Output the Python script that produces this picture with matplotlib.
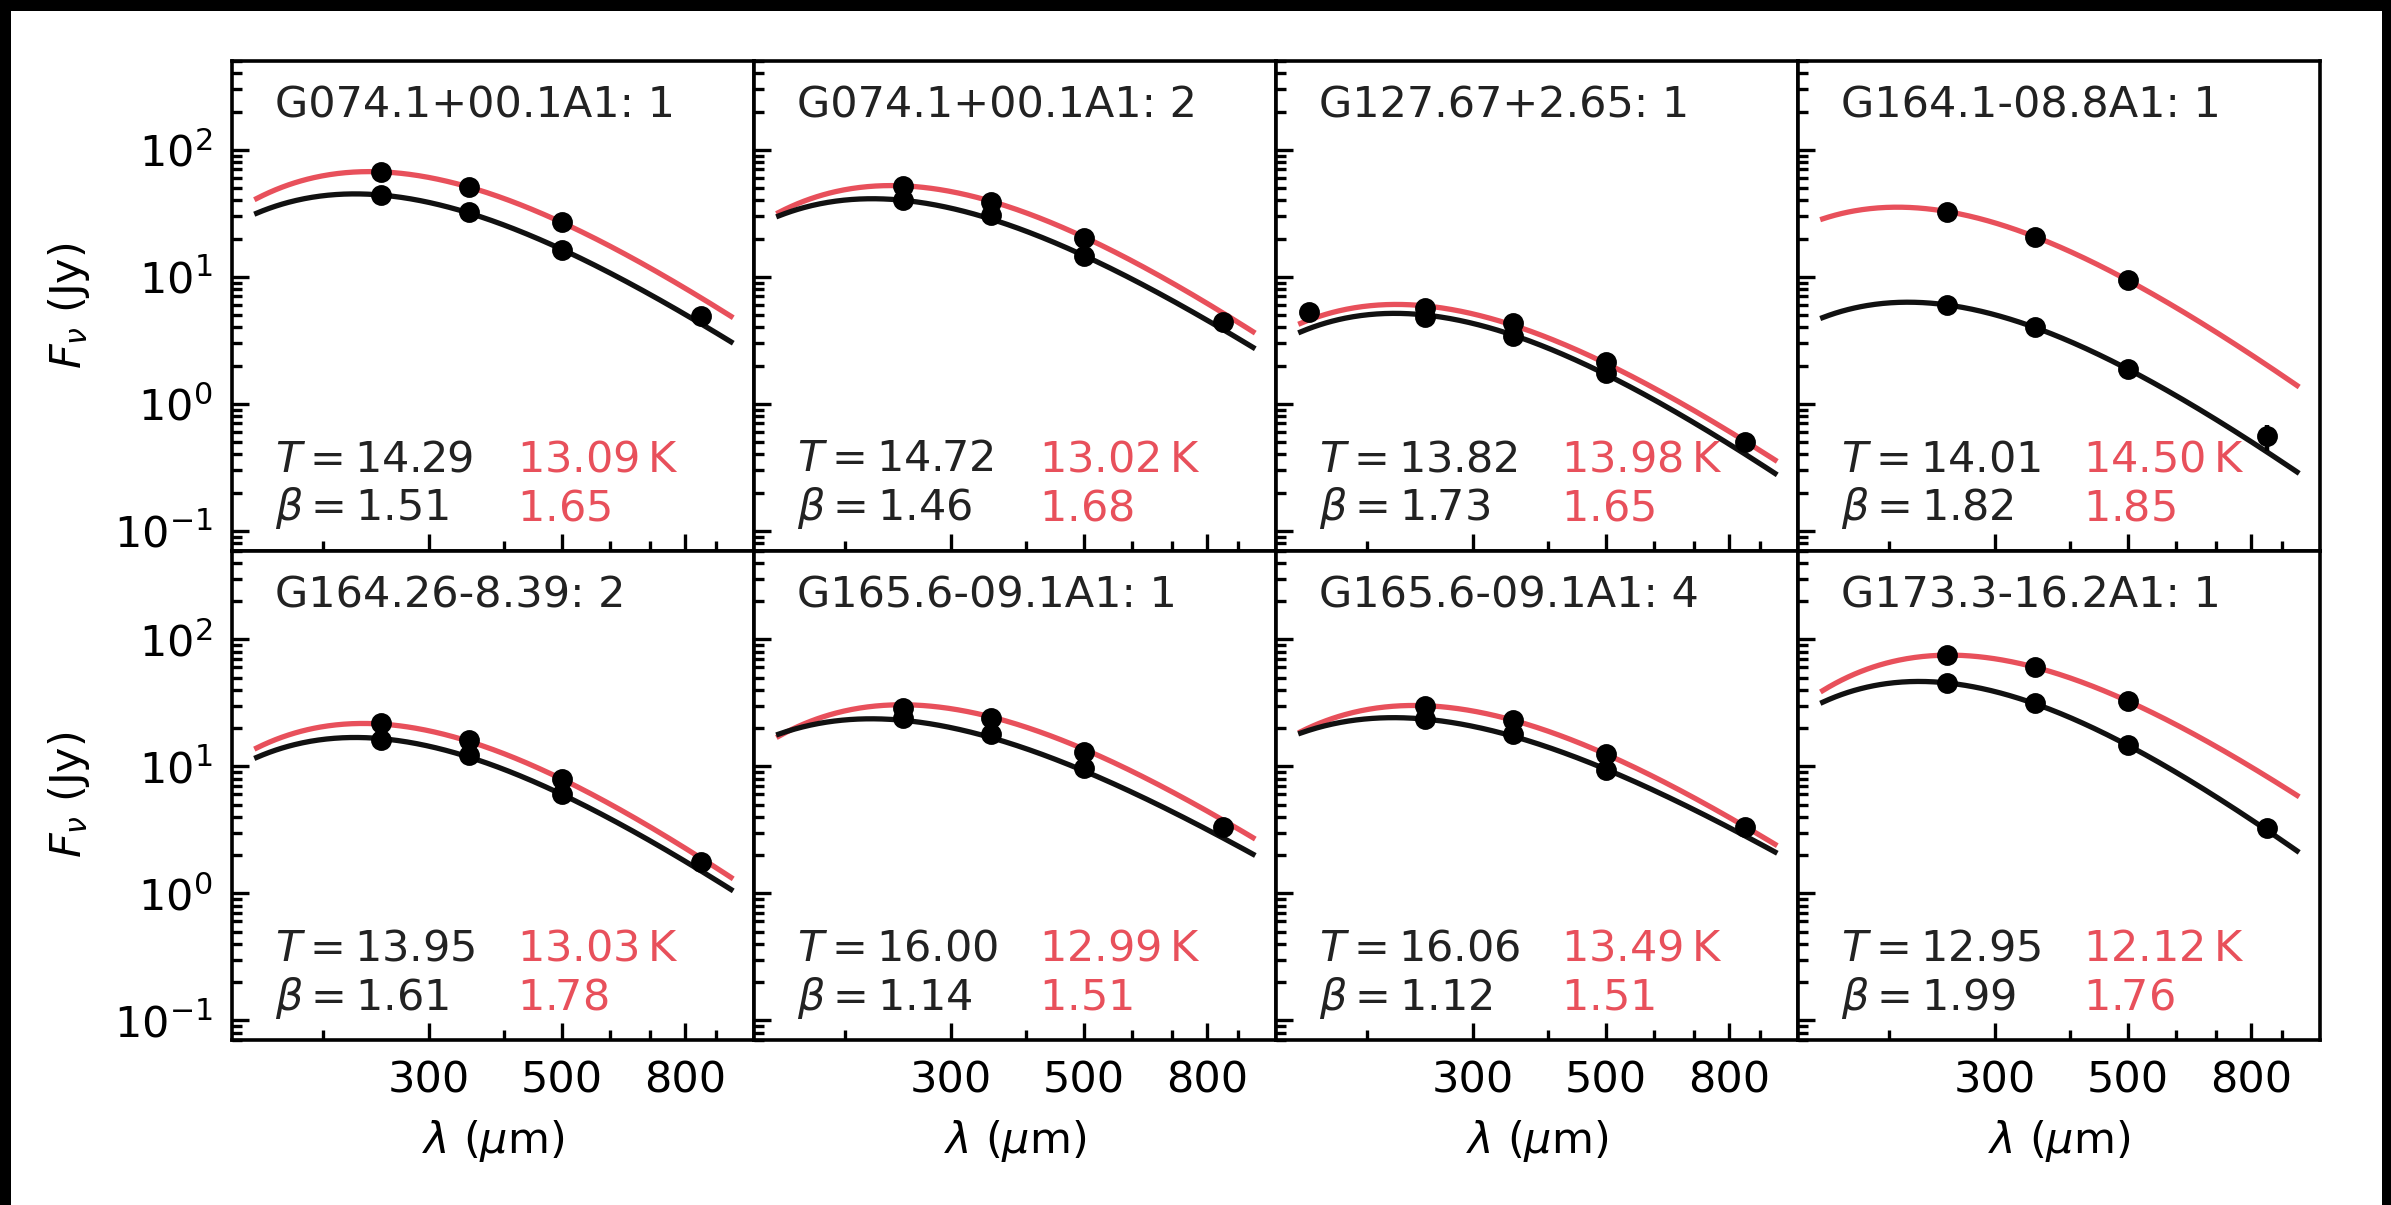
#!/usr/bin/env python3
"""
Grey-body SED fits for eight clumps, two flux extractions per clump.
"""

import numpy as np
import matplotlib

matplotlib.use("Agg")
import matplotlib.pyplot as plt
from matplotlib.patches import Rectangle
from matplotlib.ticker import FixedLocator, FixedFormatter, NullFormatter, LogLocator

# panel labels
names = [
  "G074.1+00.1A1: 1",
  "G074.1+00.1A1: 2",
  "G127.67+2.65: 1",
  "G164.1-08.8A1: 1",
  "G164.26-8.39: 2",
  "G165.6-09.1A1: 1",
  "G165.6-09.1A1: 4",
  "G173.3-16.2A1: 1",
]

# fitted parameters (black = first fit, red = second fit)
t_black = [14.29, 14.72, 13.82, 14.01, 13.95, 16.00, 16.06, 12.95]
t_red = [13.09, 13.02, 13.98, 14.50, 13.03, 12.99, 13.49, 12.12]
beta_black = [1.51, 1.46, 1.73, 1.82, 1.61, 1.14, 1.12, 1.99]
beta_red = [1.65, 1.68, 1.65, 1.85, 1.78, 1.51, 1.51, 1.76]

# SPIRE photometry (Jy) at 250 / 350 / 500 um
spire_wave = [250, 350, 500]
flux_black = [
  [44.0, 32.6, 16.4],
  [40.0, 30.6, 14.6],
  [4.8, 3.4, 1.75],
  [6.0, 4.0, 1.87],
  [16.1, 12.2, 6.0],
  [24.0, 18.0, 9.7],
  [23.5, 18.0, 9.4],
  [45.3, 31.3, 14.7],
]
flux_red = [
  [66.7, 51.0, 27.0],
  [52.0, 39.0, 20.2],
  [5.7, 4.3, 2.14],
  [32.6, 20.5, 9.4],
  [21.8, 16.1, 7.96],
  [29.0, 24.0, 13.0],
  [30.0, 23.0, 12.4],
  [75.0, 60.0, 32.6],
]

# SCUBA-2 850 um and PACS 160 um points
flux_850 = [4.9, 4.4, 0.50, 0.555, 1.75, 3.3, 3.3, 3.29]
err_850 = [0.4, 0.35, 0.05, 0.13, 0.15, 0.25, 0.25, 0.25]
flux_160 = [None, None, 5.3, None, None, None, None, None]

# fitted curve level at 250 um (Jy)
curve_black_250 = [44.0, 40.0, 5.0, 6.0, 16.5, 23.0, 23.5, 45.3]
curve_red_250 = [67.0, 52.0, 5.9, 32.6, 21.5, 30.5, 30.0, 75.0]

RED = "#e8505b"
FS = 15.5


def greybody(wave_um, temp, beta, level_250):
  """Modified black body scaled to level_250 at 250 um."""
  hc_k = 14387.77  # um K
  x = hc_k / (wave_um * temp)
  x0 = hc_k / (250.0 * temp)
  return level_250 * (250.0 / wave_um) ** (3 + beta) * np.expm1(x0) / np.expm1(x)


def draw_panel(ax, i):
  """Curves, data points and labels for one source."""
  lam = np.geomspace(155, 955, 300)
  ax.plot(lam, greybody(lam, t_red[i], beta_red[i], curve_red_250[i]), color=RED, lw=1.9, zorder=2)
  ax.plot(lam, greybody(lam, t_black[i], beta_black[i], curve_black_250[i]), color="#111111", lw=1.9, zorder=2)

  for fluxes in (flux_black[i], flux_red[i]):
    errs = [0.07 * f for f in fluxes]
    ax.errorbar(spire_wave, fluxes, yerr=errs, fmt="o", color="k", ms=6.5, elinewidth=1.6, capsize=0, zorder=3)
  ax.errorbar([850], [flux_850[i]], yerr=[err_850[i]], fmt="o", color="k", ms=6.5, elinewidth=1.6, capsize=0, zorder=3)
  if flux_160[i] is not None:
    ax.errorbar([160], [flux_160[i]], yerr=[0.07 * flux_160[i]], fmt="o", color="k", ms=6.5, elinewidth=1.6,
                capsize=0, zorder=3)

  ax.text(0.082, 0.884, names[i], transform=ax.transAxes, fontsize=FS, color="#222222")
  ax.text(0.082, 0.162, rf"$T = {t_black[i]:.2f}$", transform=ax.transAxes, fontsize=FS, color="#222222")
  ax.text(0.546, 0.162, rf"${t_red[i]:.2f}\,\mathrm{{K}}$", transform=ax.transAxes, fontsize=FS, color=RED)
  ax.text(0.082, 0.062, rf"$\beta = {beta_black[i]:.2f}$", transform=ax.transAxes, fontsize=FS, color="#222222")
  ax.text(0.546, 0.062, rf"${beta_red[i]:.2f}$", transform=ax.transAxes, fontsize=FS, color=RED)


def main():
  fig, axes = plt.subplots(2, 4, figsize=(2391 / 200, 1205 / 200), sharex=True, sharey=True)
  fig.subplots_adjust(left=232 / 2391, right=2320 / 2391, top=1 - 61 / 1205, bottom=1 - 1040 / 1205,
                      wspace=0, hspace=0)

  # black frame around the page
  fig.patch.set_facecolor("black")
  fig.add_artist(Rectangle((11 / 2391, 0), (2382 - 11) / 2391, (1205 - 11) / 1205,
                           transform=fig.transFigure, facecolor="white", edgecolor="none", zorder=-10))

  for i, ax in enumerate(axes.flat):
    ax.set_xscale("log")
    ax.set_yscale("log")
    draw_panel(ax, i)

  ax0 = axes[0, 0]
  ax0.set_xlim(141, 1043)
  ax0.set_ylim(0.07, 500)
  ax0.xaxis.set_major_locator(FixedLocator([300, 500, 800]))
  ax0.xaxis.set_major_formatter(FixedFormatter(["300", "500", "800"]))
  ax0.xaxis.set_minor_locator(LogLocator(base=10, subs=np.arange(2, 10)))
  ax0.xaxis.set_minor_formatter(NullFormatter())
  ax0.yaxis.set_major_locator(LogLocator(base=10))
  ax0.yaxis.set_minor_locator(LogLocator(base=10, subs=np.arange(2, 10), numticks=20))
  ax0.yaxis.set_minor_formatter(NullFormatter())

  for ax in axes.flat:
    ax.tick_params(which="both", direction="in", top=False, right=False, width=1.2, labelsize=FS, pad=7)
    ax.tick_params(which="major", length=6)
    ax.tick_params(which="minor", length=3.5)
    for spine in ax.spines.values():
      spine.set_linewidth(1.3)

  for ax in axes[:, 0]:
    ax.set_ylabel(r"$F_\nu$ (Jy)", fontsize=FS, labelpad=8)
  for ax in axes[1, :]:
    ax.set_xlabel(r"$\lambda$ ($\mu$m)", fontsize=FS, labelpad=6)

  fig.savefig("out.png", dpi=200, facecolor=fig.get_facecolor())


if __name__ == "__main__":
  main()
